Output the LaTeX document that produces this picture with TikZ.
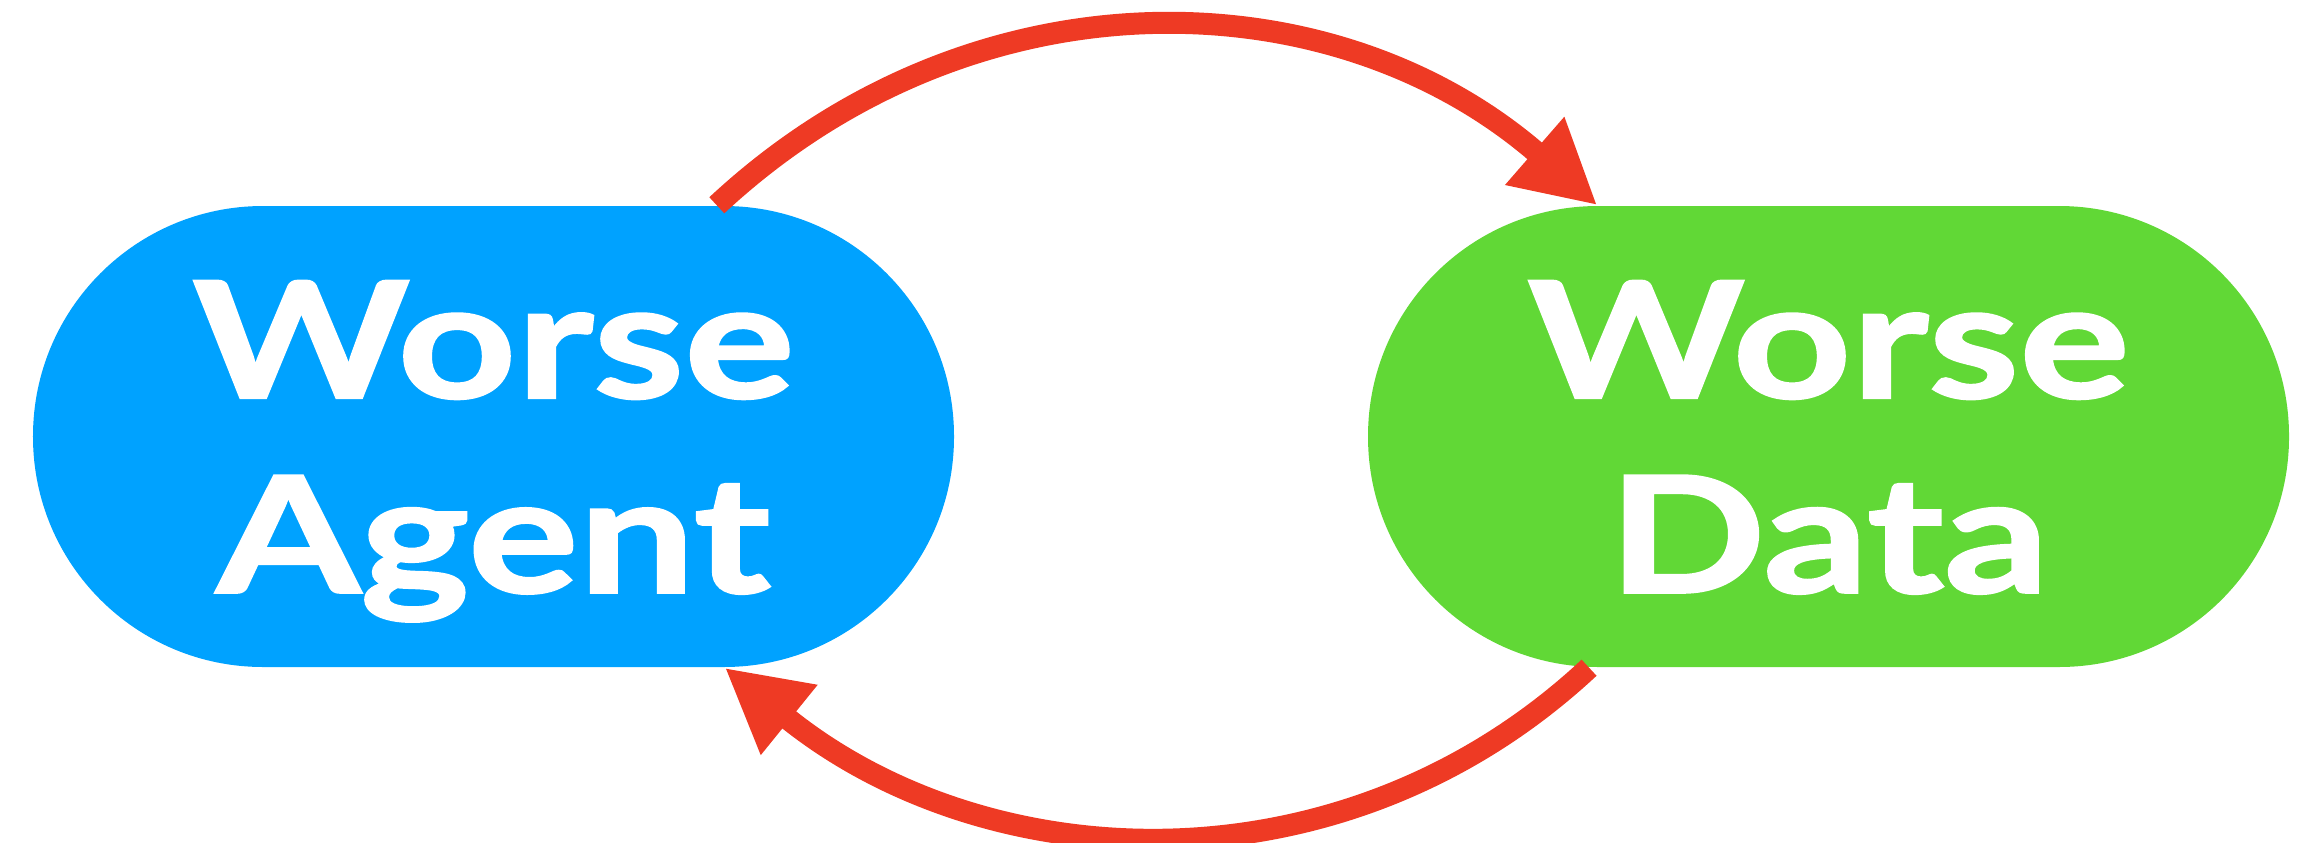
\documentclass[tikz,border=0pt]{standalone}
\usepackage{fontspec}
\setmainfont{Lato}[BoldFeatures={FakeBold=1.6,FakeStretch=1.28}]
\usepackage{tikz}
\usetikzlibrary{arrows.meta}
\definecolor{agentblue}{HTML}{00A2FF}
\definecolor{datagreen}{HTML}{61D836}
\definecolor{loopred}{HTML}{EE3A24}

\begin{document}
\begin{tikzpicture}[
  stadium/.style={rounded corners=2.3cm,minimum width=9.21cm,minimum height=4.61cm,inner sep=0pt,
    text=white,align=center,font=\fontsize{46}{55.4}\selectfont\bfseries,text height=3.12cm,text depth=0cm},
  feedback/.style={draw=loopred,line width=0.22cm,-{Triangle[length=0.83cm,width=0.84cm]}}]
  \useasboundingbox (0,0) rectangle (23.22,8.42);
  \node[stadium,fill=agentblue] (agent) at (4.935,4.055) {Worse\\Agent};
  \node[stadium,fill=datagreen] (data) at (18.285,4.055) {Worse\\Data};
  \draw[feedback] (agent.46) to[out=43,in=139,looseness=1.02] (data.135);
  \draw[feedback] (data.224) to[out=223,in=321,looseness=1.0] (agent.-45);
\end{tikzpicture}
\end{document}
